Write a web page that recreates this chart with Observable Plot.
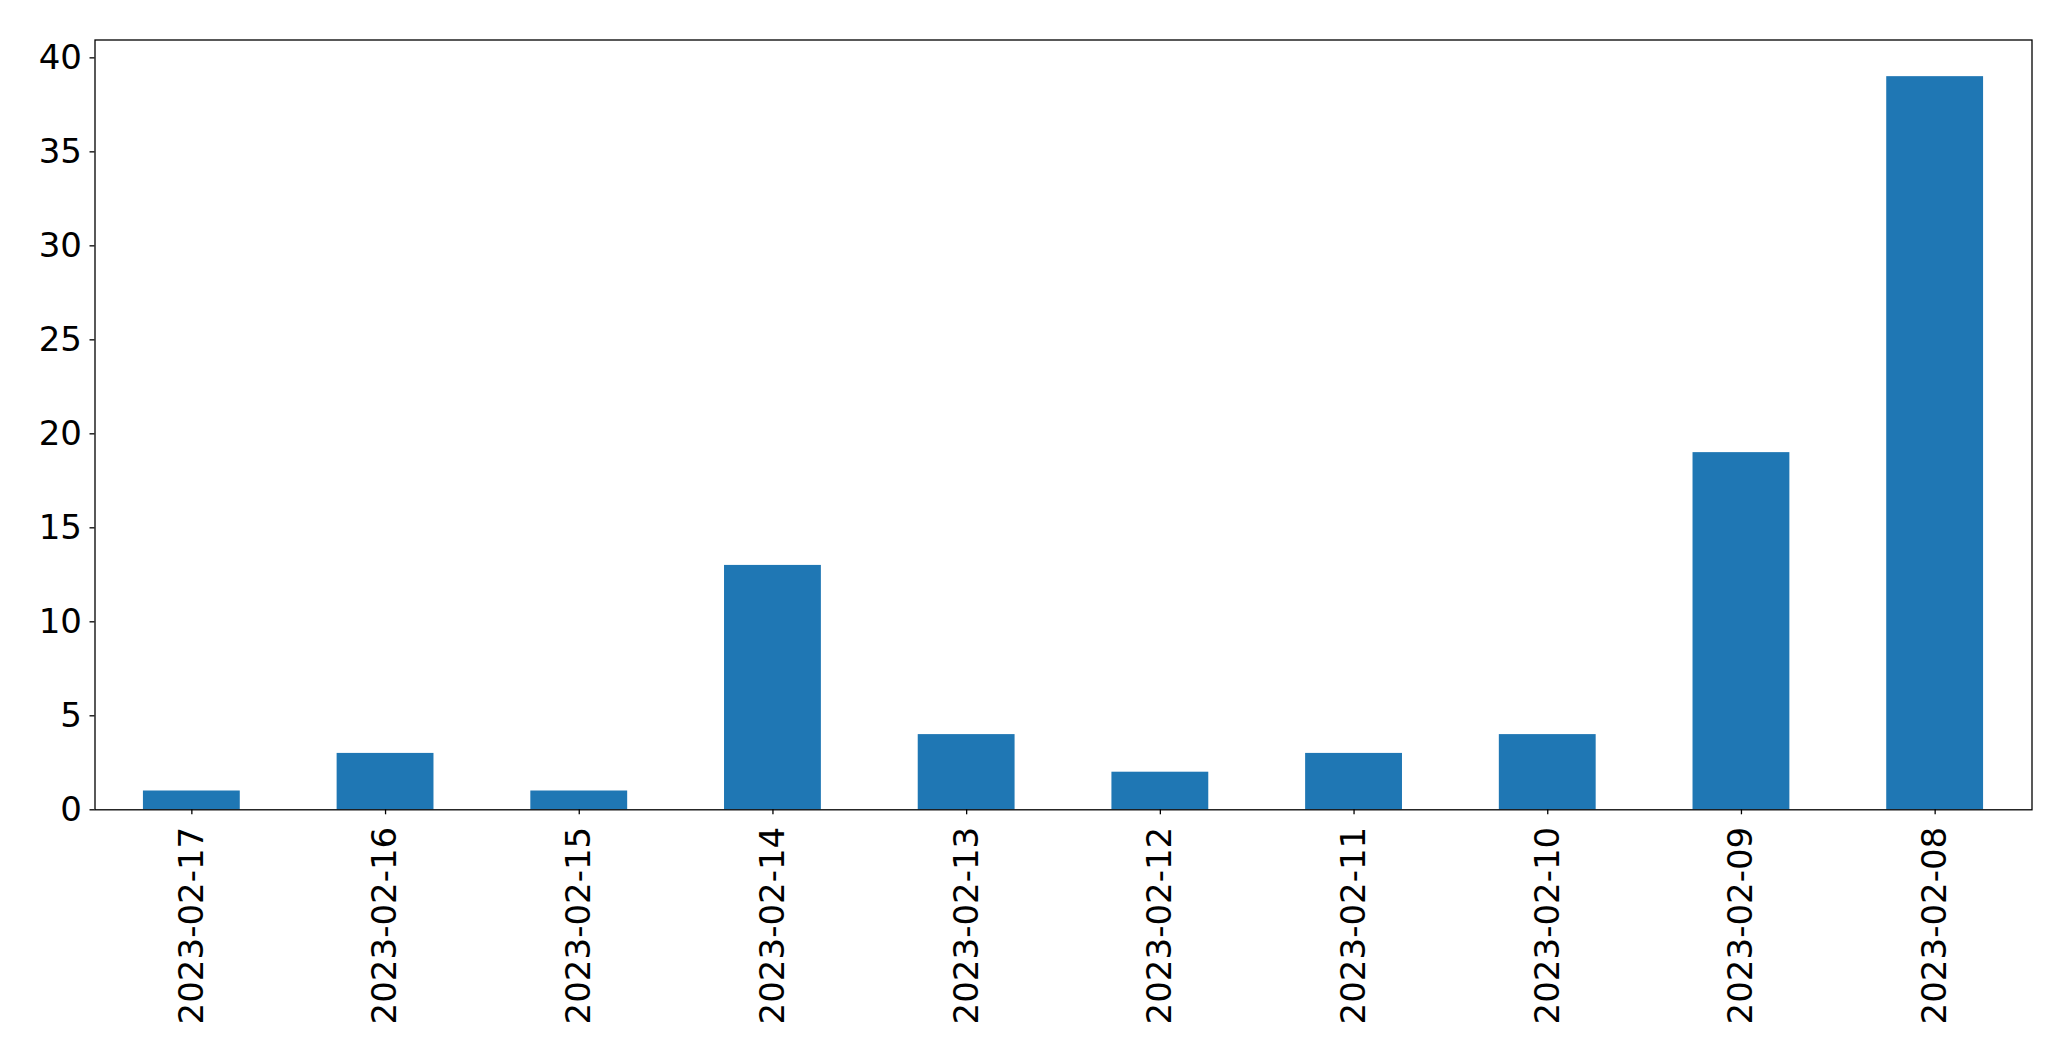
<!DOCTYPE html>
<html>
<head>
<meta charset="utf-8">
<script src="https://cdn.jsdelivr.net/npm/d3@7"></script>
<script src="https://cdn.jsdelivr.net/npm/@observablehq/plot@0.6"></script>
<style>
  html, body { margin: 0; padding: 0; background: #fff; }
</style>
</head>
<body>
<div id="chart"></div>
<script>
const dates = ["2023-02-17","2023-02-16","2023-02-15","2023-02-14","2023-02-13","2023-02-12","2023-02-11","2023-02-10","2023-02-09","2023-02-08"];
const counts = [1, 3, 1, 13, 4, 2, 3, 4, 19, 39];
const yTicks = [0, 5, 10, 15, 20, 25, 30, 35, 40];

const data = dates.map((d, i) => ({date: d, count: counts[i]}));

const chart = Plot.plot({
  width: 2071,
  height: 1061,
  marginLeft: 94.5,
  marginRight: 39.5,
  marginTop: 39.5,
  marginBottom: 251.7,
  style: {fontFamily: "DejaVu Sans", fontSize: "34px", color: "#000", background: "#fff"},
  x: {domain: dates, paddingInner: 0.5, paddingOuter: 0.25, round: false, label: null},
  y: {domain: [0, 40.95], label: null},
  marks: [
    Plot.barY(data, {x: "date", y: "count", fill: "#1f77b4"}),
    Plot.axisY({ticks: yTicks, tickSize: 5, tickPadding: 8, fontSize: 34, label: null, stroke: "#000", strokeWidth: 1.3}),
    Plot.axisX({tickSize: 5, tickPadding: 12, tickRotate: -90, fontSize: 34, label: null, stroke: "#000", strokeWidth: 1.3}),
    Plot.frame({stroke: "#000", strokeWidth: 1.3})
  ]
});
document.getElementById("chart").appendChild(chart);
</script>
</body>
</html>
